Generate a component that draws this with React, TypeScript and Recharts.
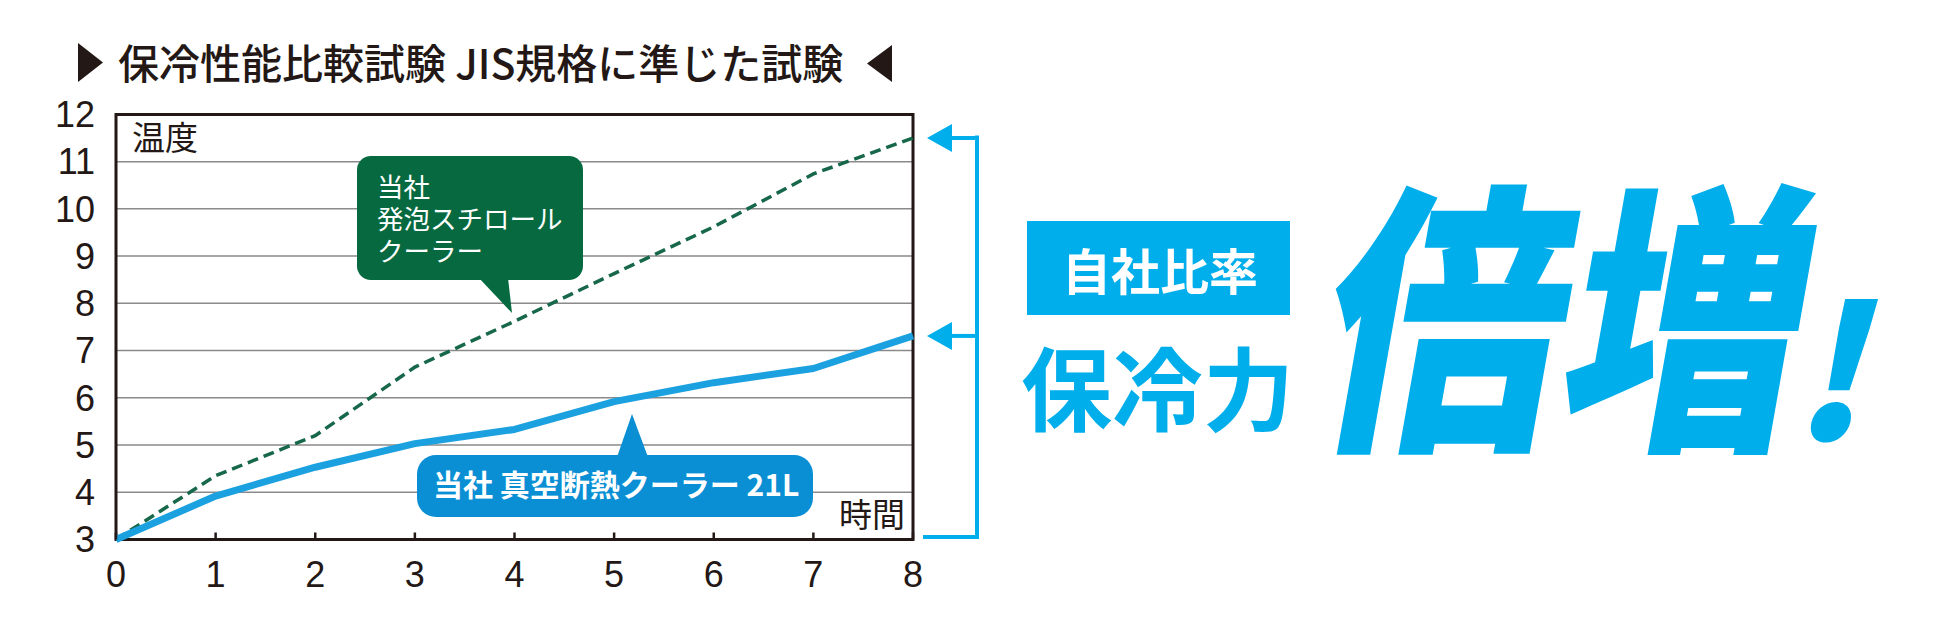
import React from 'react';
import {
  LineChart,
  Line,
  XAxis,
  YAxis,
  CartesianGrid,
  ReferenceArea,
  ReferenceDot,
} from 'recharts';

// ---- data ----
const hours = [0, 1, 2, 3, 4, 5, 6, 7, 8];
const styrofoamTemps = [3, 4.35, 5.2, 6.65, 7.62, 8.63, 9.62, 10.74, 11.5];
const vacuumTemps = [3, 3.92, 4.53, 5.03, 5.33, 5.92, 6.32, 6.62, 7.31];
const yTicks = [3, 4, 5, 6, 7, 8, 9, 10, 11, 12];
const xTicks = [0, 1, 2, 3, 4, 5, 6, 7, 8];

const titleText = '保冷性能比較試験 JIS規格に準じた試験';
const yLabel = '温度';
const xLabel = '時間';
const foamLabel = ['当社', '発泡スチロール', 'クーラー'];
const vacuumLabel = '当社 真空断熱クーラー 21L';
const badgeText = '自社比率';
const subText = '保冷力';
const bigText = '倍増';
const bangText = '!';

const data = hours.map((h, i) => ({ h, foam: styrofoamTemps[i], vac: vacuumTemps[i] }));

const FONT = '"Noto Sans CJK JP", "Noto Sans", sans-serif';
const NUM_FONT = '"Liberation Sans", Arial, sans-serif';
const INK = '#231815';
const BRIGHT = '#00aeeb';
const LINE_BLUE = '#1ba1df';
const BOX_BLUE = '#0a8fd4';
const GREEN = '#06693f';
const DASH_GREEN = '#17684a';

const BracketArrow = (props: any) => {
  const { cx, cy } = props;
  if (cx == null || cy == null) return null;
  return (
    <g>
      <polygon
        points={`${cx + 14},${cy} ${cx + 39},${cy - 14} ${cx + 39},${cy + 14}`}
        fill={BRIGHT}
      />
      <line x1={cx + 37} x2={cx + 66} y1={cy} y2={cy} stroke={BRIGHT} strokeWidth={4} />
    </g>
  );
};

export default function App() {
  const last = hours.length - 1;
  return (
    <div style={{ position: 'absolute', left: 0, top: 0, width: 1950, height: 623, background: '#fff' }}>
      <div style={{ position: 'absolute', left: 0, top: 0 }}>
        <LineChart
          width={1950}
          height={623}
          data={data}
          margin={{ top: 114.4, right: 1037, left: 16, bottom: 23.5 }}
        >
          <CartesianGrid vertical={false} stroke="#8a8a8a" strokeWidth={1.5} />
          <XAxis
            dataKey="h"
            type="number"
            domain={[0, 8]}
            ticks={xTicks}
            interval={0}
            height={60}
            axisLine={false}
            tickSize={-7}
            tickMargin={29}
            tickLine={{ stroke: INK, strokeWidth: 2.5 }}
            tick={{ fontSize: 36, fill: INK, fontFamily: NUM_FONT }}
          />
          <YAxis
            type="number"
            domain={[3, 12]}
            ticks={yTicks}
            interval={0}
            width={100}
            axisLine={false}
            tickLine={false}
            tickSize={0}
            tickMargin={21}
            tick={{ fontSize: 36, fill: INK, fontFamily: NUM_FONT }}
          />
          <ReferenceArea
            x1={0}
            x2={8}
            y1={3}
            y2={12}
            fill="none"
            fillOpacity={0}
            stroke={INK}
            strokeWidth={3}
            ifOverflow="visible"
          />
          <Line
            type="linear"
            dataKey="foam"
            stroke={DASH_GREEN}
            strokeWidth={3.5}
            strokeDasharray="11 6"
            dot={false}
            activeDot={false}
            isAnimationActive={false}
          />
          <Line
            type="linear"
            dataKey="vac"
            stroke={LINE_BLUE}
            strokeWidth={7}
            strokeLinejoin="round"
            dot={false}
            activeDot={false}
            isAnimationActive={false}
          />
          <ReferenceDot
            x={hours[last]}
            y={styrofoamTemps[last]}
            r={1}
            ifOverflow="visible"
            shape={BracketArrow}
          />
          <ReferenceDot
            x={hours[last]}
            y={vacuumTemps[last]}
            r={1}
            ifOverflow="visible"
            shape={BracketArrow}
          />
        </LineChart>
      </div>
      <svg
        width={1950}
        height={623}
        style={{ position: 'absolute', left: 0, top: 0, pointerEvents: 'none' }}
        fontFamily={FONT}
      >
        {/* title */}
        <polygon points="78,43 78,82 103,62.5" fill={INK} />
        <text x={118} y={79} fontSize={41} fontWeight={500} fill={INK}>
          {titleText}
        </text>
        <polygon points="892,45 892,82 867,63.5" fill={INK} />

        {/* axis captions */}
        <text x={132} y={150} fontSize={33} fill={INK}>
          {yLabel}
        </text>
        <text x={905} y={527} fontSize={33} fill={INK} textAnchor="end">
          {xLabel}
        </text>

        {/* green callout */}
        <rect x={357} y={156} width={226} height={124} rx={14} fill={GREEN} />
        <polygon points="479,278 508,278 512,313" fill={GREEN} />
        <text x={377} y={165} fontSize={26.5} fill="#fff">
          {foamLabel.map((t) => (
            <tspan key={t} x={377} dy={32}>
              {t}
            </tspan>
          ))}
        </text>

        {/* blue callout */}
        <rect x={417} y={455} width={396} height={62} rx={19} fill={BOX_BLUE} />
        <polygon points="617,457 648,457 632,414" fill={BOX_BLUE} />
        <text x={433} y={496} fontSize={30} fontWeight={700} fill="#fff">
          {vacuumLabel}
        </text>

        {/* bracket */}
        <line x1={977} x2={977} y1={135.5} y2={539} stroke={BRIGHT} strokeWidth={4} />
        <line x1={923} x2={979} y1={537} y2={537} stroke={BRIGHT} strokeWidth={4} />

        {/* right panel */}
        <rect x={1027} y={221} width={263} height={94} fill={BRIGHT} />
        <text x={1160} y={290} fontSize={49} fontWeight={700} fill="#fff" textAnchor="middle">
          {badgeText}
        </text>
        <text x={1021} y={424} fontSize={91} fontWeight={700} fill={BRIGHT}>
          {subText}
        </text>
        <g transform="translate(1310,428) skewX(-10) scale(0.85,1)">
          <text x={0} y={0} fontSize={285} fontWeight={900} fill={BRIGHT}>
            {bigText}
          </text>
        </g>
        <g transform="translate(1790,440) skewX(-14)">
          <text x={0} y={0} fontSize={184} fontWeight={900} fill={BRIGHT}>
            {bangText}
          </text>
        </g>
      </svg>
    </div>
  );
}
